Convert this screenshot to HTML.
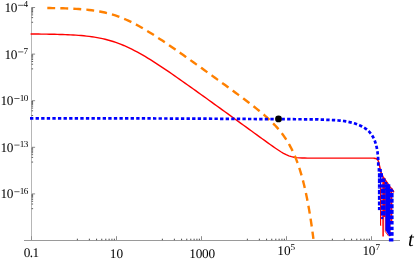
<!DOCTYPE html>
<html><head><meta charset="utf-8"><title>plot</title>
<style>html,body{margin:0;padding:0;background:#fff}body{width:415px;height:260px;overflow:hidden}svg{display:block;will-change:transform}</style>
</head><body>
<svg width="415" height="260" viewBox="0 0 415 260">
<rect width="415" height="260" fill="#fff"/>
<g stroke="#8a8a8a" stroke-width="1" fill="none" shape-rendering="crispEdges">
<path d="M31.5,7 V241" stroke="#b6b6b6"/>
<path d="M24,240.5 H400" stroke="#9a9a9a"/>
</g>
<g stroke="#8e8e8e" stroke-width="1" fill="none">
<path d="M31.50,236.2 V240"/>
<path d="M116.50,236.2 V240"/>
<path d="M201.50,236.2 V240"/>
<path d="M286.50,236.2 V240"/>
<path d="M371.50,236.2 V240"/>
<path d="M32,7.50 H35.1"/>
<path d="M32,54.10 H35.1"/>
<path d="M32,100.70 H35.1"/>
<path d="M32,147.30 H35.1"/>
<path d="M32,193.90 H35.1"/>
</g>
<g stroke="#4c4c4c" stroke-width="1" fill="none">
<path d="M77.37,238.7 V240.2"/>
<path d="M89.37,238.7 V240.2"/>
<path d="M96.59,238.7 V240.2"/>
<path d="M101.76,238.7 V240.2"/>
<path d="M105.80,238.7 V240.2"/>
<path d="M109.11,238.7 V240.2"/>
<path d="M111.91,238.7 V240.2"/>
<path d="M114.35,238.7 V240.2"/>
<path d="M162.37,238.7 V240.2"/>
<path d="M174.37,238.7 V240.2"/>
<path d="M181.59,238.7 V240.2"/>
<path d="M186.76,238.7 V240.2"/>
<path d="M190.80,238.7 V240.2"/>
<path d="M194.11,238.7 V240.2"/>
<path d="M196.91,238.7 V240.2"/>
<path d="M199.35,238.7 V240.2"/>
<path d="M247.37,238.7 V240.2"/>
<path d="M259.37,238.7 V240.2"/>
<path d="M266.59,238.7 V240.2"/>
<path d="M271.76,238.7 V240.2"/>
<path d="M275.80,238.7 V240.2"/>
<path d="M279.11,238.7 V240.2"/>
<path d="M281.91,238.7 V240.2"/>
<path d="M284.35,238.7 V240.2"/>
<path d="M332.37,238.7 V240.2"/>
<path d="M344.37,238.7 V240.2"/>
<path d="M351.59,238.7 V240.2"/>
<path d="M356.76,238.7 V240.2"/>
<path d="M360.80,238.7 V240.2"/>
<path d="M364.11,238.7 V240.2"/>
<path d="M366.91,238.7 V240.2"/>
<path d="M369.35,238.7 V240.2"/>
<path d="M31.5,22.27 H33.1" stroke="#606060"/>
<path d="M31.5,17.62 H33.1" stroke="#606060"/>
<path d="M31.5,14.90 H33.1" stroke="#606060"/>
<path d="M31.5,12.96 H33.1" stroke="#606060"/>
<path d="M31.5,11.46 H33.1" stroke="#606060"/>
<path d="M31.5,10.23 H33.1" stroke="#606060"/>
<path d="M31.5,9.19 H33.1" stroke="#606060"/>
<path d="M31.5,8.29 H33.1" stroke="#606060"/>
<path d="M31.5,68.87 H33.1" stroke="#606060"/>
<path d="M31.5,64.22 H33.1" stroke="#606060"/>
<path d="M31.5,61.50 H33.1" stroke="#606060"/>
<path d="M31.5,59.56 H33.1" stroke="#606060"/>
<path d="M31.5,58.06 H33.1" stroke="#606060"/>
<path d="M31.5,56.83 H33.1" stroke="#606060"/>
<path d="M31.5,55.79 H33.1" stroke="#606060"/>
<path d="M31.5,54.89 H33.1" stroke="#606060"/>
<path d="M31.5,115.47 H33.1" stroke="#606060"/>
<path d="M31.5,110.82 H33.1" stroke="#606060"/>
<path d="M31.5,108.10 H33.1" stroke="#606060"/>
<path d="M31.5,106.16 H33.1" stroke="#606060"/>
<path d="M31.5,104.66 H33.1" stroke="#606060"/>
<path d="M31.5,103.43 H33.1" stroke="#606060"/>
<path d="M31.5,102.39 H33.1" stroke="#606060"/>
<path d="M31.5,101.49 H33.1" stroke="#606060"/>
<path d="M31.5,162.07 H33.1" stroke="#606060"/>
<path d="M31.5,157.42 H33.1" stroke="#606060"/>
<path d="M31.5,154.70 H33.1" stroke="#606060"/>
<path d="M31.5,152.76 H33.1" stroke="#606060"/>
<path d="M31.5,151.26 H33.1" stroke="#606060"/>
<path d="M31.5,150.03 H33.1" stroke="#606060"/>
<path d="M31.5,148.99 H33.1" stroke="#606060"/>
<path d="M31.5,148.09 H33.1" stroke="#606060"/>
<path d="M31.5,208.67 H33.1" stroke="#606060"/>
<path d="M31.5,204.02 H33.1" stroke="#606060"/>
<path d="M31.5,201.30 H33.1" stroke="#606060"/>
<path d="M31.5,199.36 H33.1" stroke="#606060"/>
<path d="M31.5,197.86 H33.1" stroke="#606060"/>
<path d="M31.5,196.63 H33.1" stroke="#606060"/>
<path d="M31.5,195.59 H33.1" stroke="#606060"/>
<path d="M31.5,194.69 H33.1" stroke="#606060"/>
</g>
<path d="M30.60,34.00 L33.26,34.02 L35.92,34.04 L38.59,34.06 L41.25,34.09 L43.91,34.12 L46.57,34.15 L49.23,34.19 L51.90,34.24 L54.56,34.30 L57.22,34.36 L59.88,34.43 L62.54,34.52 L65.21,34.62 L67.87,34.73 L70.53,34.85 L73.19,35.00 L75.85,35.17 L78.52,35.36 L81.18,35.57 L83.84,35.82 L86.50,36.10 L89.16,36.41 L91.83,36.77 L94.49,37.17 L97.15,37.62 L99.81,38.12 L102.47,38.68 L105.14,39.30 L107.80,39.98 L110.46,40.72 L113.12,41.53 L115.78,42.42 L118.45,43.37 L121.11,44.39 L123.77,45.48 L126.43,46.64 L129.09,47.87 L131.76,49.16 L134.42,50.51 L137.08,51.92 L139.74,53.38 L142.40,54.90 L145.07,56.45 L147.73,58.05 L150.39,59.69 L153.05,61.36 L155.71,63.07 L158.38,64.80 L161.04,66.55 L163.70,68.33 L166.36,70.13 L169.02,71.94 L171.69,73.77 L174.35,75.61 L177.01,77.47 L179.67,79.33 L182.33,81.20 L185.00,83.08 L187.66,84.97 L190.32,86.86 L192.98,88.76 L195.64,90.66 L198.31,92.57 L200.97,94.48 L203.63,96.39 L206.29,98.30 L208.96,100.22 L211.62,102.14 L214.28,104.06 L216.94,105.98 L219.60,107.90 L222.27,109.83 L224.93,111.75 L227.59,113.68 L230.25,115.61 L232.91,117.53 L235.58,119.46 L238.24,121.39 L240.90,123.32 L243.56,125.24 L246.22,127.17 L248.89,129.10 L251.55,131.03 L254.21,132.96 L256.87,134.89 L259.53,136.82 L262.20,138.74 L264.86,140.67 L267.52,142.58 L270.18,144.49 L272.84,146.38 L275.51,148.24 L278.17,150.04 L280.83,151.76 L283.49,153.33 L286.15,154.71 L288.82,155.82 L291.48,156.66 L294.14,157.24 L296.80,157.61 L299.46,157.83 L302.13,157.97 L304.79,158.04 L307.45,158.08 L310.11,158.11 L312.77,158.12 L315.44,158.13 L318.10,158.13 L320.76,158.13 L323.42,158.14 L326.08,158.14 L328.75,158.14 L331.41,158.14 L334.07,158.14 L336.73,158.14 L339.39,158.14 L342.06,158.14 L344.72,158.14 L347.38,158.14 L350.04,158.14 L352.70,158.14 L355.37,158.14 L358.03,158.14 L360.69,158.14 L363.35,158.14 L366.01,158.14 L368.68,158.14 L371.34,158.14 L374.00,158.14 L374.00,158.20 L375.60,158.45 L376.80,159.00 L377.80,160.00 L378.60,161.80 L379.80,166.90 L380.80,171.90 L382.00,174.60 L383.00,176.60 L385.60,180.40 L387.90,183.70 L389.70,186.80 L392.30,189.30 L393.90,192.30" fill="none" stroke="#ff0000" stroke-width="1.4" stroke-linejoin="round"/>
<path d="M47.30,8.02 L49.91,8.05 L52.53,8.09 L55.14,8.14 L57.76,8.19 L60.37,8.25 L62.99,8.32 L65.60,8.40 L68.22,8.49 L70.83,8.59 L73.45,8.72 L76.06,8.86 L78.68,9.02 L81.29,9.21 L83.90,9.42 L86.52,9.66 L89.13,9.94 L91.75,10.26 L94.36,10.61 L96.98,11.02 L99.59,11.47 L102.21,11.98 L104.82,12.54 L107.44,13.17 L110.05,13.86 L112.67,14.62 L115.28,15.45 L117.89,16.35 L120.51,17.32 L123.12,18.36 L125.74,19.48 L128.35,20.66 L130.97,21.90 L133.58,23.21 L136.20,24.58 L138.81,26.00 L141.43,27.47 L144.04,28.99 L146.66,30.56 L149.27,32.16 L151.88,33.79 L154.50,35.46 L157.11,37.16 L159.73,38.88 L162.34,40.62 L164.96,42.38 L167.57,44.16 L170.19,45.95 L172.80,47.75 L175.42,49.57 L178.03,51.39 L180.64,53.23 L183.26,55.07 L185.87,56.92 L188.49,58.77 L191.10,60.63 L193.72,62.49 L196.33,64.36 L198.95,66.23 L201.56,68.10 L204.18,69.98 L206.79,71.86 L209.41,73.74 L212.02,75.62 L214.63,77.51 L217.25,79.40 L219.86,81.29 L222.48,83.18 L225.09,85.08 L227.71,86.98 L230.32,88.89 L232.94,90.80 L235.55,92.72 L238.17,94.65 L240.78,96.59 L243.40,98.54 L246.01,100.51 L248.62,102.49 L251.24,104.50 L253.85,106.54 L256.47,108.61 L259.08,110.72 L261.70,112.89 L264.31,115.12 L266.93,117.43 L269.54,119.84 L272.16,122.37 L274.77,125.04 L277.39,127.90 L280.00,130.99 L280.26,131.30 L280.52,131.63 L280.78,131.95 L281.04,132.28 L281.29,132.61 L281.55,132.94 L281.81,133.28 L282.07,133.62 L282.33,133.96 L282.59,134.31 L282.85,134.66 L283.11,135.01 L283.37,135.37 L283.63,135.73 L283.88,136.09 L284.14,136.46 L284.40,136.83 L284.66,137.20 L284.92,137.58 L285.18,137.96 L285.44,138.35 L285.70,138.74 L285.96,139.14 L286.22,139.54 L286.47,139.94 L286.73,140.35 L286.99,140.76 L287.25,141.18 L287.51,141.60 L287.77,142.03 L288.03,142.46 L288.29,142.90 L288.55,143.34 L288.81,143.79 L289.06,144.24 L289.32,144.70 L289.58,145.16 L289.84,145.63 L290.10,146.11 L290.36,146.59 L290.62,147.08 L290.88,147.57 L291.14,148.07 L291.40,148.58 L291.65,149.09 L291.91,149.61 L292.17,150.14 L292.43,150.68 L292.69,151.22 L292.95,151.77 L293.21,152.32 L293.47,152.89 L293.73,153.46 L293.99,154.04 L294.24,154.63 L294.50,155.22 L294.76,155.83 L295.02,156.44 L295.28,157.06 L295.54,157.69 L295.80,158.34 L296.06,158.99 L296.32,159.65 L296.58,160.31 L296.83,160.99 L297.09,161.68 L297.35,162.38 L297.61,163.09 L297.87,163.82 L298.13,164.55 L298.39,165.29 L298.65,166.05 L298.91,166.82 L299.17,167.59 L299.42,168.39 L299.68,169.19 L299.94,170.01 L300.20,170.84 L300.46,171.68 L300.72,172.54 L300.98,173.41 L301.24,174.29 L301.50,175.19 L301.76,176.11 L302.01,177.04 L302.27,177.98 L302.53,178.94 L302.79,179.92 L303.05,180.91 L303.31,181.92 L303.57,182.95 L303.83,183.99 L304.09,185.05 L304.35,186.13 L304.60,187.23 L304.86,188.35 L305.12,189.49 L305.38,190.64 L305.64,191.82 L305.90,193.02 L306.16,194.23 L306.42,195.47 L306.68,196.73 L306.94,198.02 L307.19,199.32 L307.45,200.65 L307.71,202.01 L307.97,203.38 L308.23,204.79 L308.49,206.21 L308.75,207.67 L309.01,209.14 L309.27,210.65 L309.53,212.18 L309.78,213.74 L310.04,215.33 L310.30,216.95 L310.56,218.60 L310.82,220.28 L311.08,221.99 L311.34,223.73 L311.60,225.50 L311.86,227.31 L312.12,229.15 L312.37,231.02 L312.63,232.93 L312.89,234.88 L313.15,236.86 L313.41,238.88" fill="none" stroke="#ff8000" stroke-width="2.4" stroke-dasharray="7.88 5.15"/>
<path d="M30.00,118.30 L37.38,118.30 L44.77,118.31 L52.15,118.31 L59.54,118.32 L66.92,118.33 L74.31,118.33 L81.69,118.34 L89.08,118.35 L96.46,118.36 L103.85,118.37 L111.23,118.38 L118.62,118.39 L126.00,118.40 L133.38,118.42 L140.77,118.44 L148.15,118.46 L155.54,118.48 L162.92,118.50 L170.31,118.53 L177.69,118.56 L185.08,118.59 L192.46,118.62 L199.85,118.66 L207.23,118.70 L214.62,118.75 L222.00,118.80 L229.38,118.86 L236.77,118.91 L244.15,118.96 L251.54,119.01 L258.92,119.05 L266.31,119.08 L273.69,119.12 L281.08,119.16 L288.46,119.19 L295.85,119.23 L303.23,119.27 L310.62,119.33 L318.00,119.40 L319.17,119.57 L320.26,119.61 L321.37,119.64 L322.49,119.68 L323.61,119.71 L324.75,119.75 L325.89,119.78 L327.04,119.82 L328.20,119.86 L329.36,119.90 L330.53,119.95 L331.70,120.00 L332.87,120.06 L334.05,120.13 L335.23,120.21 L336.41,120.29 L337.60,120.38 L338.78,120.49 L339.97,120.60 L341.15,120.73 L342.33,120.88 L343.51,121.03 L344.69,121.20 L345.86,121.39 L347.03,121.60 L348.19,121.82 L349.35,122.06 L350.51,122.32 L351.65,122.60 L352.79,122.90 L353.92,123.23 L355.04,123.58 L356.16,123.95 L357.26,124.35 L358.35,124.77 L359.42,125.22 L360.48,125.69 L361.52,126.20 L362.53,126.73 L363.53,127.30 L364.49,127.90 L365.43,128.52 L366.34,129.18 L367.21,129.88 L368.06,130.61 L368.86,131.37 L369.62,132.18 L370.35,133.01 L371.03,133.89 L371.68,134.80 L372.28,135.73 L372.85,136.70 L373.39,137.70 L373.88,138.73 L374.35,139.77 L374.78,140.85 L375.18,141.94 L375.55,143.05 L375.89,144.18 L376.21,145.32 L376.49,146.48 L376.75,147.64 L376.98,148.82 L377.19,150.01 L377.38,151.20 L377.55,152.39 L377.69,153.59 L377.82,154.78 L377.93,155.98 L378.02,157.17 L378.10,158.36 L378.16,159.54 L378.20,160.71 L378.23,161.87 L378.26,163.01 L378.27,164.15 L378.27,165.26 L378.26,166.36 L378.25,167.44" fill="none" stroke="#0000ff" stroke-width="2.7" stroke-dasharray="3.35 2.24"/>
<g>
<path d="M380.5,186.5 V225.7" stroke="#ff0000" stroke-width="1" fill="none"/>
<rect x="381.40" y="176.00" width="1.60" height="41.00" fill="#ff0000" opacity="0.25"/>
<rect x="383.00" y="178.00" width="2.30" height="39.00" fill="#ff0000"/>
<path d="M383.1,178 V236.5" stroke="#ff0000" stroke-width="1.5" fill="none"/>
<path d="M381.9,219 V226" stroke="#ff0000" stroke-width="0.9" fill="none" opacity="0.3"/>
<path d="M385.3,188 V231.5 L388.7,236.2" stroke="#ff0000" stroke-width="0.9" fill="none"/>
<path d="M391.3,190 V222" stroke="#ff0000" stroke-width="2.0" fill="none"/>
<path d="M390.5,222 V236" stroke="#ff0000" stroke-width="0.7" fill="none" opacity="0.7"/>
<rect x="377.60" y="168.10" width="2.40" height="3.50" fill="#0000ff"/>
<rect x="379.60" y="168.90" width="2.20" height="3.30" fill="#0000ff"/>
<rect x="377.90" y="173.20" width="5.10" height="4.30" fill="#0000ff"/>
<rect x="377.90" y="178.40" width="7.60" height="3.60" fill="#0000ff"/>
<rect x="377.90" y="182.00" width="3.50" height="1.20" fill="#0000ff"/>
<rect x="384.50" y="182.00" width="2.90" height="2.30" fill="#0000ff"/>
<rect x="377.90" y="184.30" width="11.10" height="3.30" fill="#0000ff"/>
<rect x="377.90" y="187.60" width="2.20" height="1.00" fill="#0000ff"/>
<rect x="380.90" y="187.60" width="0.50" height="1.10" fill="#0000ff"/>
<rect x="380.00" y="173.20" width="1.00" height="13.30" fill="#0000ff"/>
<rect x="384.60" y="187.60" width="4.40" height="1.10" fill="#0000ff"/>
<rect x="380.90" y="188.70" width="11.80" height="1.30" fill="#0000ff"/>
<rect x="377.90" y="189.90" width="2.20" height="4.40" fill="#0000ff"/>
<rect x="377.90" y="195.80" width="2.20" height="4.10" fill="#0000ff"/>
<rect x="377.90" y="201.50" width="2.20" height="3.90" fill="#0000ff"/>
<rect x="377.90" y="207.00" width="2.20" height="3.10" fill="#0000ff"/>
<rect x="380.90" y="190.00" width="4.70" height="3.40" fill="#0000ff"/>
<rect x="380.90" y="194.60" width="4.70" height="4.40" fill="#0000ff"/>
<rect x="380.90" y="200.20" width="4.70" height="4.00" fill="#0000ff"/>
<rect x="380.90" y="205.40" width="4.70" height="4.40" fill="#0000ff"/>
<rect x="380.90" y="211.10" width="4.70" height="4.40" fill="#0000ff"/>
<rect x="380.90" y="190.00" width="0.50" height="26.00" fill="#0000ff"/>
<rect x="381.10" y="216.80" width="2.20" height="2.30" fill="#0000ff"/>
<rect x="385.40" y="184.30" width="4.90" height="45.70" fill="#0000ff"/>
<rect x="389.90" y="190.00" width="3.70" height="1.80" fill="#0000ff"/>
<rect x="389.90" y="193.00" width="3.70" height="4.40" fill="#0000ff"/>
<rect x="389.90" y="198.70" width="3.70" height="4.00" fill="#0000ff"/>
<rect x="389.90" y="204.20" width="3.70" height="4.10" fill="#0000ff"/>
<rect x="389.90" y="209.80" width="3.70" height="4.10" fill="#0000ff"/>
<rect x="389.90" y="215.50" width="3.70" height="3.60" fill="#0000ff"/>
<rect x="389.90" y="221.00" width="3.70" height="3.50" fill="#0000ff"/>
<rect x="389.90" y="226.70" width="3.70" height="3.40" fill="#0000ff"/>
<rect x="388.90" y="232.10" width="4.70" height="3.70" fill="#0000ff"/>
<rect x="388.90" y="238.30" width="4.50" height="3.20" fill="#0000ff"/>
<polygon points="385.4,230 390.3,230 390.3,236.3 389.3,236.3" fill="#0000ff"/>
</g>
<circle cx="278.5" cy="118.9" r="3.4" fill="#000"/>
<g font-family="'Liberation Serif', serif" font-size="13.3" fill="#000" text-rendering="geometricPrecision">
<text x="31.2" y="257.4" text-anchor="middle" letter-spacing="-0.65">0.1</text>
<text x="116.4" y="257.5" text-anchor="middle">10</text>
<text x="202.1" y="257.6" text-anchor="middle" letter-spacing="-0.2">1000</text>
<text x="277.3" y="254.9">10<tspan font-size="9.2" dy="-5.2">5</tspan></text>
<text x="362.4" y="254.9"><tspan letter-spacing="-0.3">1</tspan>0<tspan font-size="9.2" dy="-5.2">7</tspan></text>
<text x="4.55" y="12.05" letter-spacing="-0.4">10</text>
<path d="M18.10,5.30 h5.25" stroke="#000" stroke-width="0.62" fill="none"/>
<text x="23.45" y="7.40" font-size="9.2" letter-spacing="-0.4">4</text>
<text x="4.55" y="58.65" letter-spacing="-0.4">10</text>
<path d="M18.10,51.90 h5.25" stroke="#000" stroke-width="0.62" fill="none"/>
<text x="23.45" y="54.00" font-size="9.2" letter-spacing="-0.4">7</text>
<text x="0.50" y="105.25" letter-spacing="-0.4">10</text>
<path d="M14.30,98.50 h5.25" stroke="#000" stroke-width="0.62" fill="none"/>
<text x="19.65" y="100.60" font-size="9.2" letter-spacing="-0.4">10</text>
<text x="0.50" y="151.85" letter-spacing="-0.4">10</text>
<path d="M14.30,145.10 h5.25" stroke="#000" stroke-width="0.62" fill="none"/>
<text x="19.65" y="147.20" font-size="9.2" letter-spacing="-0.4">13</text>
<text x="0.50" y="198.45" letter-spacing="-0.4">10</text>
<path d="M14.30,191.70 h5.25" stroke="#000" stroke-width="0.62" fill="none"/>
<text x="19.65" y="193.80" font-size="9.2" letter-spacing="-0.4">16</text>
</g>
<text x="407.9" y="246.1" font-family="'Liberation Serif', serif" font-style="italic" font-size="20.5" text-rendering="geometricPrecision" fill="#000">t</text>
</svg>
</body></html>
